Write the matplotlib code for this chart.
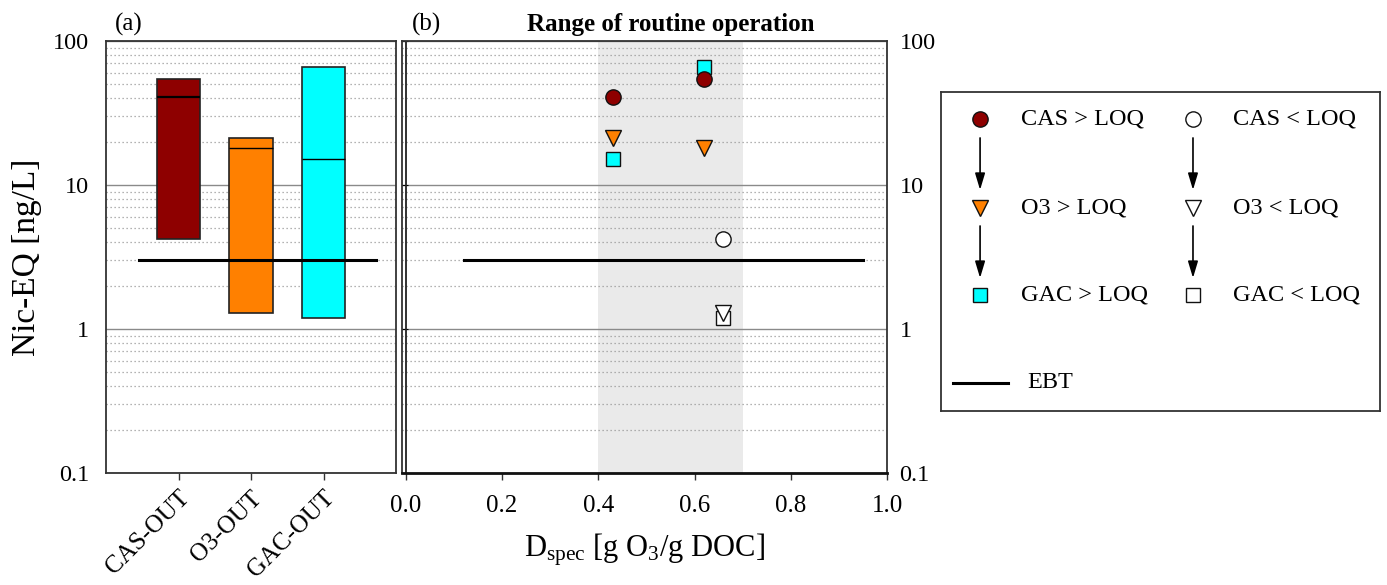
import numpy as np
import matplotlib
matplotlib.use("Agg")
import matplotlib.pyplot as plt
from matplotlib.ticker import FixedLocator, NullFormatter, FuncFormatter

plt.rcParams['font.family'] = ['Liberation Serif', 'DejaVu Serif']
plt.rcParams['mathtext.fontset'] = 'custom'
plt.rcParams['mathtext.rm'] = 'Liberation Serif'
plt.rcParams['mathtext.it'] = 'Liberation Serif:italic'

# ---------------- data ----------------
categories = ["CAS-OUT", "O3-OUT", "GAC-OUT"]
colors = ["#8E0000", "#FF8000", "#00FFFF"]
# samples >LOQ (first two) and <LOQ (third) for each stage
dspec_gt = [0.43, 0.62]
cas_gt = [40.6, 54.2]
o3_gt = [21.1, 18.0]
gac_gt = [15.1, 66.3]
dspec_lt = [0.66]
cas_lt = [4.2]
o3_lt = [1.3]
gac_lt = [1.2]
ebt_value = 3.0
ebt_x_a = [0.45, 3.72]
ebt_x_b = [0.12, 0.95]
routine_range = [0.4, 0.7]
y_ticks = [0.1, 1, 10, 100]
x_ticks_b = [0.0, 0.2, 0.4, 0.6, 0.8, 1.0]

stage_values = [cas_gt + cas_lt, o3_gt + o3_lt, gac_gt + gac_lt]

W, H = 1387, 585
fig = plt.figure(figsize=(W / 100, H / 100), dpi=100)

def fr(x0, y0, x1, y1):
    return [x0 / W, (H - y1) / H, (x1 - x0) / W, (y1 - y0) / H]

ax_a = fig.add_axes(fr(106, 41, 396, 473))
ax_b = fig.add_axes(fr(402, 41, 887, 473))

minor_locs = [m * 10.0 ** e for e in (-1, 0, 1) for m in range(2, 10)]

def style_y(ax):
    ax.set_yscale('log')
    ax.set_ylim(0.1, 100)
    ax.yaxis.set_major_locator(FixedLocator(y_ticks))
    ax.yaxis.set_major_formatter(FuncFormatter(lambda v, p: f"{v:g}"))
    ax.yaxis.set_minor_locator(FixedLocator(minor_locs))
    ax.yaxis.set_minor_formatter(NullFormatter())
    ax.grid(True, axis='y', which='major', color='#8a8a8a', lw=1.0, ls='-')
    ax.grid(True, axis='y', which='minor', color='#9a9a9a', lw=0.9, ls=(0, (1, 2.2)))
    ax.set_axisbelow(True)
    for s in ax.spines.values():
        s.set_color('#333333')
        s.set_linewidth(1.3)

# ---------------- panel (a) ----------------
style_y(ax_a)
xpos = np.arange(1, len(categories) + 1)
mins = [min(v) for v in stage_values]
maxs = [max(v) for v in stage_values]
meds = [float(np.median(v)) for v in stage_values]
bw = 0.6
ax_a.bar(xpos, np.array(maxs) - np.array(mins), bottom=mins, width=bw,
         color=colors, edgecolor='#222222', linewidth=1.2, zorder=2)
for xp, md, lw in zip(xpos, meds, [1.6, 1.0, 1.0]):
    ax_a.hlines(md, xp - bw / 2, xp + bw / 2, color='black', lw=lw, zorder=3)
ax_a.plot(ebt_x_a, [ebt_value] * 2, color='black', lw=2.2, zorder=4)
ax_a.set_xlim(0, 4)
ax_a.set_xticks(xpos)
ax_a.set_xticklabels(categories, rotation=45, ha='right', va='top',
                     rotation_mode='anchor', fontsize=18)
ax_a.tick_params(axis='x', direction='out', length=5, width=1, color='#333333', pad=5)
ax_a.tick_params(axis='y', which='both', length=0, labelsize=17.5, pad=12)
ax_a.set_ylabel("Nic-EQ [ng/L]", fontsize=24, labelpad=8)
ax_a.text(0.03, 1.012, "(a)", transform=ax_a.transAxes, fontsize=18,
          ha='left', va='bottom')

# ---------------- panel (b) ----------------
style_y(ax_b)
ax_b.set_xlim(-0.008, 1.0)
ax_b.axvspan(routine_range[0], routine_range[1], color='#EAEAEA', zorder=0.1, lw=0)
ax_b.axvline(0, color='#222222', lw=1.3, zorder=1)
ax_b.plot(ebt_x_b, [ebt_value] * 2, color='black', lw=2.2, zorder=3)

mk = dict(linestyle='none', markeredgecolor='#111111', markeredgewidth=1.0, zorder=5)
ax_b.plot(dspec_gt, o3_gt, marker='v', markersize=11, markerfacecolor=colors[1], **mk)
ax_b.plot(dspec_gt, gac_gt, marker='s', markersize=9.5, markerfacecolor=colors[2], **mk)
ax_b.plot(dspec_gt, cas_gt, marker='o', markersize=11, markerfacecolor=colors[0], **mk)
ax_b.plot(dspec_lt, gac_lt, marker='s', markersize=9.5, markerfacecolor='white', **mk)
ax_b.plot(dspec_lt, o3_lt, marker='v', markersize=11, markerfacecolor='white', **mk)
ax_b.plot(dspec_lt, cas_lt, marker='o', markersize=11, markerfacecolor='white', **mk)

ax_b.set_xticks(x_ticks_b)
ax_b.set_xticklabels([f"{v:.1f}" for v in x_ticks_b], fontsize=18)
ax_b.tick_params(axis='x', direction='out', length=5, width=1, color='#333333', pad=11)
ax_b.yaxis.tick_right()
ax_b.tick_params(axis='y', which='major', left=True, right=False, labelleft=False,
                 labelright=True, direction='in', length=4, labelsize=17.5, pad=9)
ax_b.tick_params(axis='y', which='minor', left=False, right=False)
ax_b.set_xlabel(r"D$_{\rm spec}$ [g O$_3$/g DOC]", fontsize=22, labelpad=10)
ax_b.spines['bottom'].set_linewidth(2.0)
ax_b.spines['bottom'].set_color('#111111')
ax_b.text(0.02, 1.012, "(b)", transform=ax_b.transAxes, fontsize=18,
          ha='left', va='bottom')
ax_b.text(sum(routine_range) / 2, 1.012, "Range of routine operation",
          transform=ax_b.get_xaxis_transform(), fontsize=18, fontweight='bold',
          ha='center', va='bottom')

# ---------------- legend ----------------
ax_l = fig.add_axes(fr(941, 92, 1380, 411))
ax_l.set_xlim(0, 1)
ax_l.set_ylim(0, 1)
ax_l.set_xticks([])
ax_l.set_yticks([])
for s in ax_l.spines.values():
    s.set_color('#333333')
    s.set_linewidth(1.3)

rows = [0.915, 0.636, 0.364]
mk_x = [0.089, 0.574]
tx_x = [0.182, 0.665]
shapes = ['o', 'v', 's']
sizes = [11, 11, 9.5]
names = ["CAS", "O3", "GAC"]
for i, (y, shp, sz, nm) in enumerate(zip(rows, shapes, sizes, names)):
    ax_l.plot(mk_x[0], y, marker=shp, markersize=sz, markerfacecolor=colors[i], **mk)
    ax_l.plot(mk_x[1], y, marker=shp, markersize=sz, markerfacecolor='white', **mk)
    ax_l.text(tx_x[0], y, f"{nm} > LOQ", fontsize=17.5, va='center', ha='left')
    ax_l.text(tx_x[1], y, f"{nm} < LOQ", fontsize=17.5, va='center', ha='left')
for xa in mk_x:
    for y0, y1 in [(0.856, 0.693), (0.580, 0.417)]:
        ax_l.annotate("", xy=(xa, y1), xytext=(xa, y0),
                      arrowprops=dict(arrowstyle='-|>,head_length=1.0,head_width=0.3',
                                      color='black', lw=1.2, shrinkA=0, shrinkB=0))
ax_l.plot([0.027, 0.153], [0.088, 0.088], color='black', lw=2.2)
ax_l.text(0.196, 0.088, "EBT", fontsize=17.5, va='center', ha='left')

fig.savefig("out.png", dpi=100)
